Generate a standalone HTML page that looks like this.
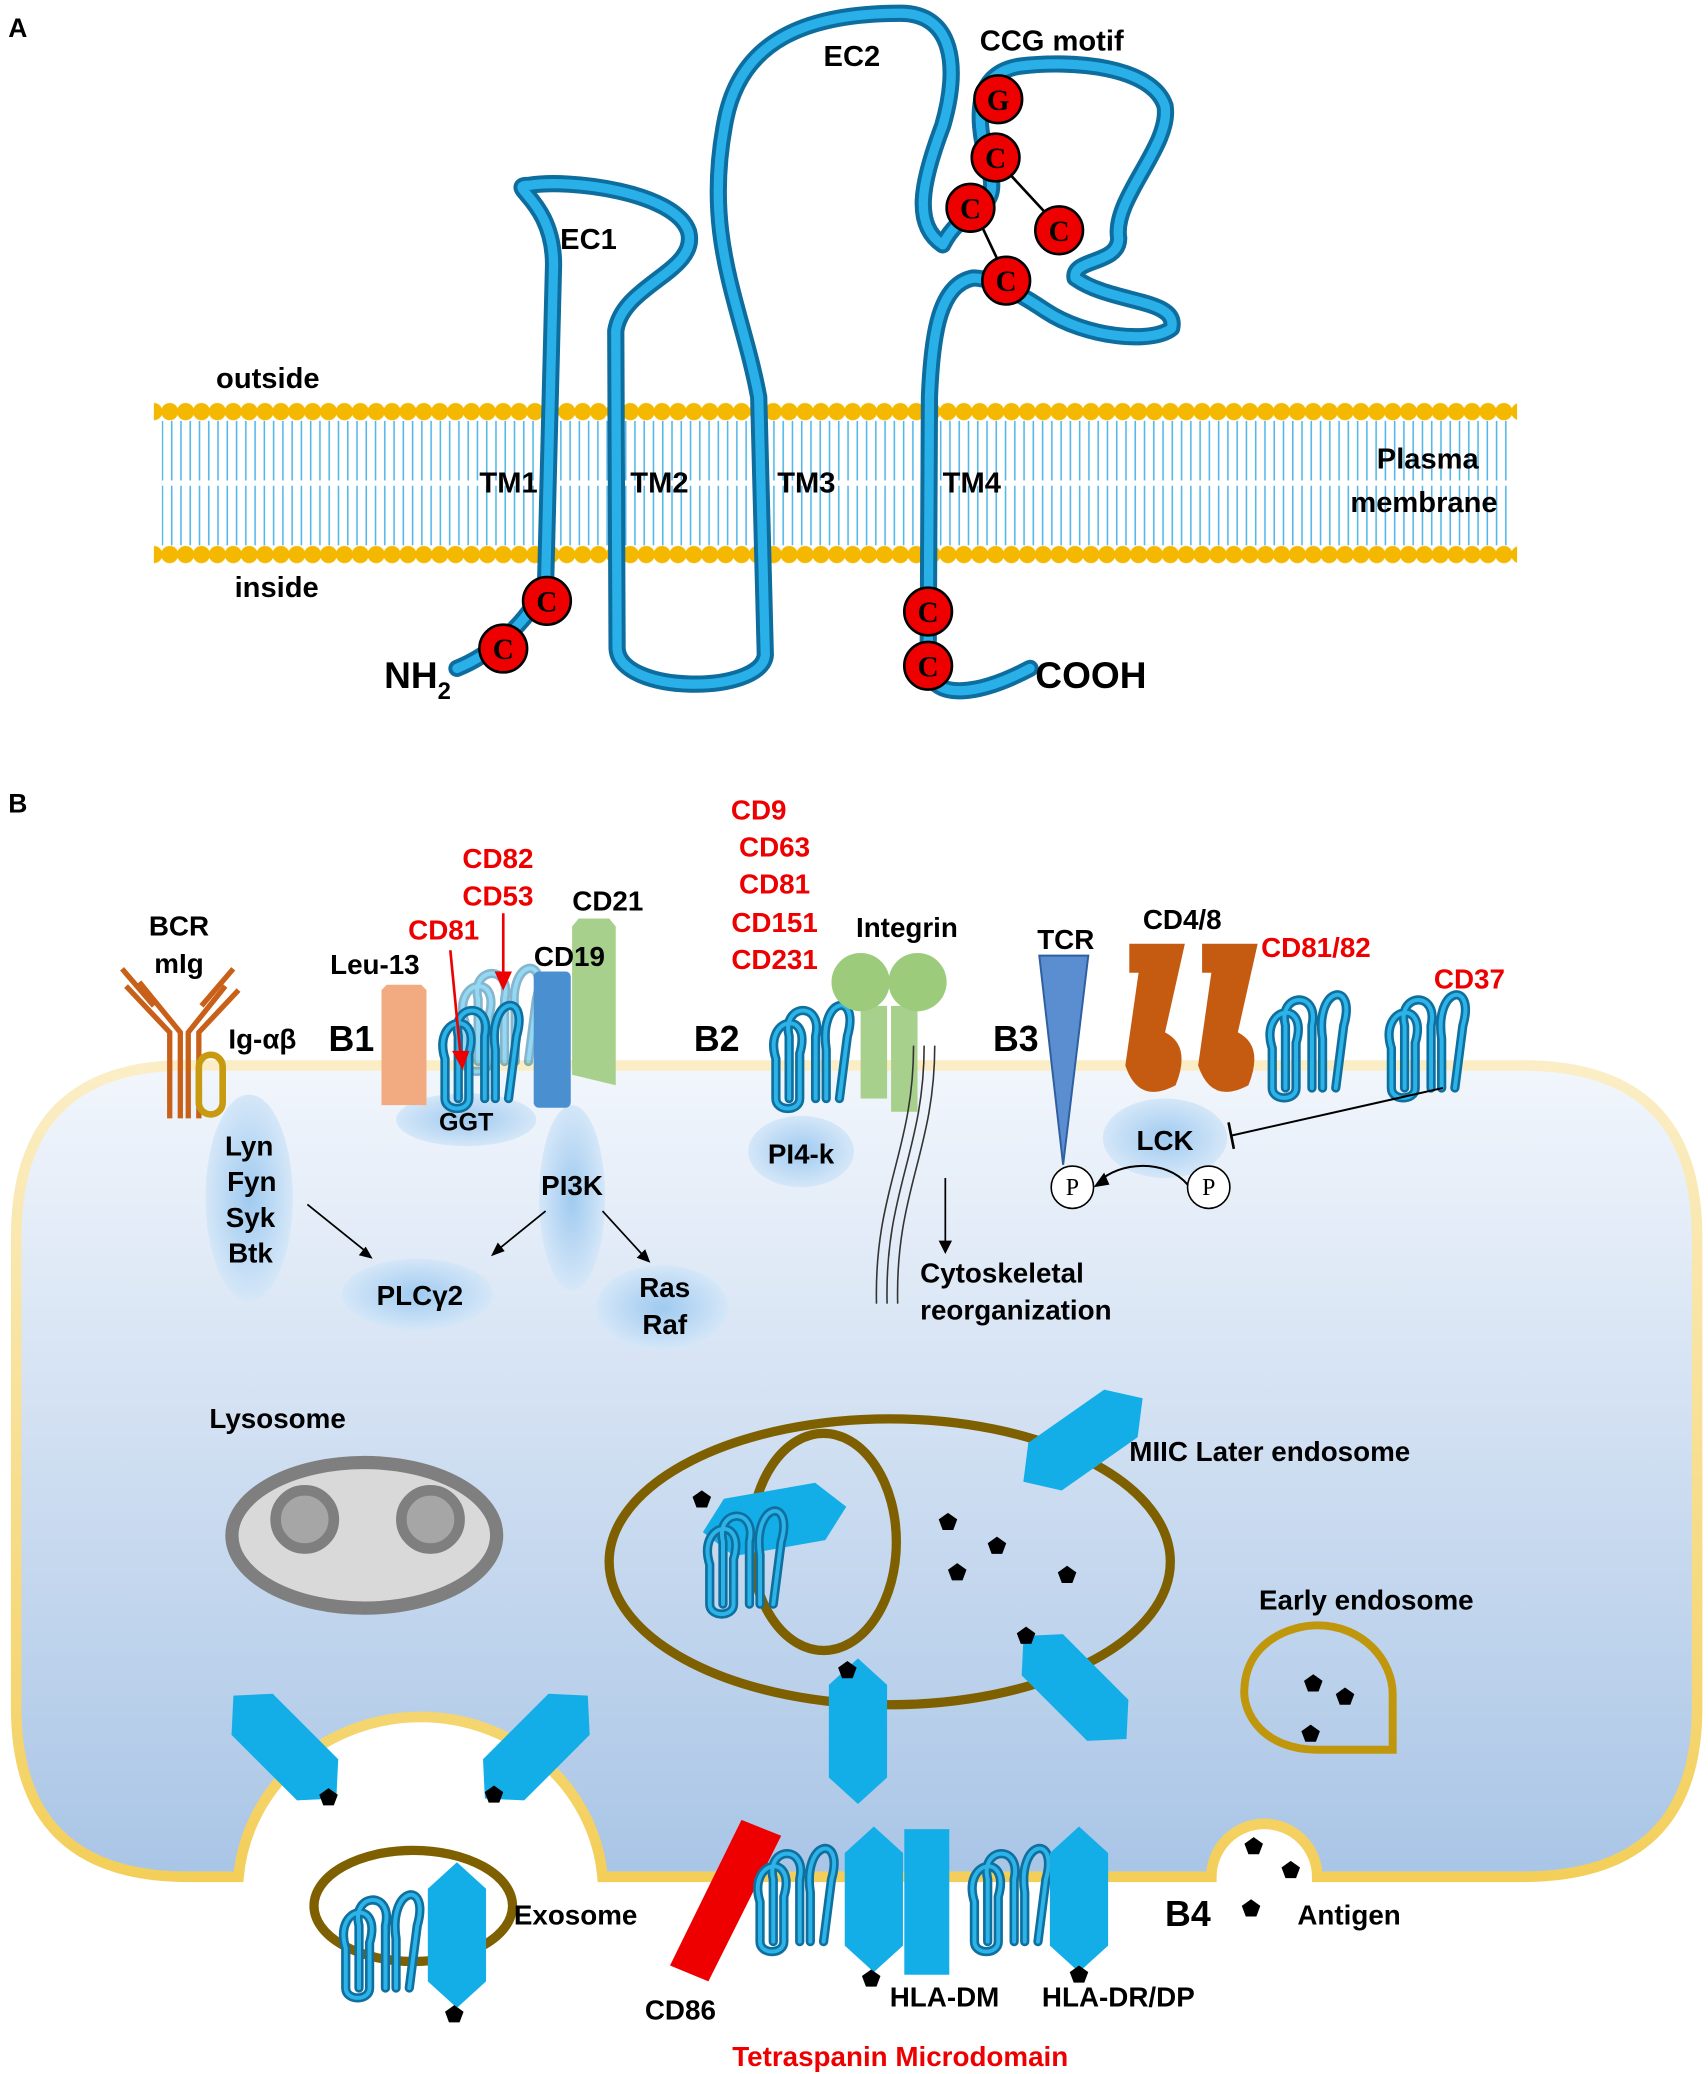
<!DOCTYPE html>
<html><head><meta charset="utf-8"><style>
html,body{margin:0;padding:0;background:#fff}
svg{display:block}
text{font-family:"Liberation Sans",sans-serif;font-weight:bold}
</style></head><body>
<svg width="1708" height="2074" viewBox="0 0 1290 1567" xmlns="http://www.w3.org/2000/svg">
<defs>
<pattern id="tails" x="0" y="0" width="7" height="10" patternUnits="userSpaceOnUse">
<line x1="3.5" y1="0" x2="3.5" y2="10" stroke="#55b8e6" stroke-width="1.2"/>
</pattern>
<pattern id="heads" x="122" y="301" width="12" height="20" patternUnits="userSpaceOnUse">
<circle cx="6" cy="10" r="6.5" fill="#f5b800"/>
</pattern>
<pattern id="heads2" x="122" y="409" width="12" height="20" patternUnits="userSpaceOnUse">
<circle cx="6" cy="10" r="6.5" fill="#f5b800"/>
</pattern>
<linearGradient id="cellg" x1="0" y1="0" x2="0" y2="1">
<stop offset="0" stop-color="#f2f6fc"/><stop offset="1" stop-color="#a9c5e6"/>
</linearGradient>
<linearGradient id="cellb" x1="0" y1="0" x2="0" y2="1">
<stop offset="0" stop-color="#fbeec6"/><stop offset="1" stop-color="#f3cf5a"/>
</linearGradient>
<radialGradient id="bub" cx="0.5" cy="0.5" r="0.5">
<stop offset="0" stop-color="#9fcaf0"/><stop offset="1" stop-color="#d5e7f8"/>
</radialGradient>
<g id="tsp">
<path d="M-24,22 L-24,-8 C-34,-40 4,-46 -6,-12 L-6,22 M-14,22 L-14,-25 C-20,-50 12,-52 6,-25 L6,22 M14,22 L14,-15 C8,-55 40,-60 30,-25 L24,22 M-24,22 C-24,32 -6,32 -6,22" fill="none" stroke="#0f6f9e" stroke-width="7" stroke-linecap="round"/>
<path d="M-24,22 L-24,-8 C-34,-40 4,-46 -6,-12 L-6,22 M-14,22 L-14,-25 C-20,-50 12,-52 6,-25 L6,22 M14,22 L14,-15 C8,-55 40,-60 30,-25 L24,22 M-24,22 C-24,32 -6,32 -6,22" fill="none" stroke="#2cb3e8" stroke-width="3" stroke-linecap="round"/>
</g>
<polygon id="hex" points="0,-55 22,-35 22,35 0,55 -22,35 -22,-35" fill="#13aee8"/>
<polygon id="pent" points="0,-7 7,-2 4,6 -4,6 -7,-2" fill="#000"/>
</defs>

<!-- PART A -->
<text x="6" y="28" font-size="20">A</text>
<rect x="122" y="318" width="1018" height="94" fill="url(#tails)"/>
<line x1="122" y1="365" x2="1140" y2="365" stroke="#fff" stroke-width="4"/>
<rect x="116" y="301" width="1030" height="20" fill="url(#heads)"/>
<rect x="116" y="409" width="1030" height="20" fill="url(#heads2)"/>
<line x1="122" y1="311" x2="1140" y2="311" stroke="#f5b800" stroke-width="3"/>
<line x1="122" y1="419" x2="1140" y2="419" stroke="#f5b800" stroke-width="3"/>

<path id="chain" d="M345,505 C370,495 400,470 412,440 L418,200 C418,150 380,140 400,140 C430,135 510,145 520,175 C528,205 470,215 465,250 L466,490 C468,525 575,525 578,495 L573,300 C560,230 530,180 548,90 C560,30 610,10 680,10 C720,10 725,50 712,95 C695,140 690,170 712,185 C730,150 760,165 745,120 C735,80 740,55 770,50 C810,45 870,50 880,80 C885,110 840,150 845,180 C845,200 810,195 812,210 C840,230 890,225 885,248 C870,260 820,255 790,235 C760,215 745,210 735,210 C710,215 704,250 702,300 L701,505 C705,530 740,525 778,505" fill="none" stroke="#0d6d9e" stroke-width="13" stroke-linecap="round" stroke-linejoin="round"/>
<path d="M345,505 C370,495 400,470 412,440 L418,200 C418,150 380,140 400,140 C430,135 510,145 520,175 C528,205 470,215 465,250 L466,490 C468,525 575,525 578,495 L573,300 C560,230 530,180 548,90 C560,30 610,10 680,10 C720,10 725,50 712,95 C695,140 690,170 712,185 C730,150 760,165 745,120 C735,80 740,55 770,50 C810,45 870,50 880,80 C885,110 840,150 845,180 C845,200 810,195 812,210 C840,230 890,225 885,248 C870,260 820,255 790,235 C760,215 745,210 735,210 C710,215 704,250 702,300 L701,505 C705,530 740,525 778,505" fill="none" stroke="#2ab0e8" stroke-width="7" stroke-linecap="round" stroke-linejoin="round"/>
<line x1="752" y1="120" x2="800" y2="172" stroke="#000" stroke-width="2"/>
<line x1="735" y1="157" x2="760" y2="210" stroke="#000" stroke-width="2"/>
<g stroke="#000" stroke-width="2" fill="#e00">
<circle cx="754" cy="75" r="18"/><circle cx="752" cy="119" r="18"/><circle cx="733" cy="157" r="18"/><circle cx="800" cy="174" r="18"/><circle cx="760" cy="212" r="18"/>
<circle cx="413" cy="454" r="18"/><circle cx="380" cy="490" r="18"/><circle cx="701" cy="462" r="18"/><circle cx="701" cy="503" r="18"/>
</g>
<g fill="#000" font-size="22" text-anchor="middle">
<text x="754" y="83" style="font-family:'Liberation Serif',serif">G</text><text x="752" y="127" style="font-family:'Liberation Serif',serif">C</text><text x="733" y="165" style="font-family:'Liberation Serif',serif">C</text><text x="800" y="182" style="font-family:'Liberation Serif',serif">C</text><text x="760" y="220" style="font-family:'Liberation Serif',serif">C</text>
<text x="413" y="462" style="font-family:'Liberation Serif',serif">C</text><text x="380" y="498" style="font-family:'Liberation Serif',serif">C</text><text x="701" y="470" style="font-family:'Liberation Serif',serif">C</text><text x="701" y="511" style="font-family:'Liberation Serif',serif">C</text>
</g>
<g font-size="22">
<text x="740" y="38">CCG motif</text>
<text x="622" y="50">EC2</text>
<text x="423" y="188">EC1</text>
<text x="163" y="293">outside</text>
<text x="177" y="451">inside</text>
<text x="362" y="372">TM1</text><text x="476" y="372">TM2</text><text x="587" y="372">TM3</text><text x="712" y="372">TM4</text>
<text x="1040" y="354">Plasma</text><text x="1020" y="387">membrane</text>
</g>
<text x="290" y="520" font-size="28">NH<tspan font-size="18" dy="8">2</tspan></text>
<text x="782" y="520" font-size="28">COOH</text>

<!-- PART B -->
<text x="6" y="614" font-size="20">B</text>
<path d="M140,805 L1150,805 Q1282,805 1282,935 L1282,1290 Q1282,1418 1150,1418 L995,1418 A40,40 0 0 0 915,1418 L455,1418 A138,132 0 0 0 180,1418 L142,1418 Q12,1418 12,1290 L12,935 Q12,805 140,805 Z" fill="url(#cellg)" stroke="url(#cellb)" stroke-width="8"/>

<!-- B1 -->
<g fill="none" stroke="#c8601a" stroke-width="4">
<path d="M128,845 L128,780 L95,745 M136,845 L136,780 L105,742 M142,845 L142,780 L170,745 M150,845 L150,780 L180,748"/>
<path d="M92,732 L116,760 M176,732 L152,760"/>
</g>
<rect x="150" y="797" width="18" height="45" rx="9" fill="none" stroke="#c89a10" stroke-width="5"/>
<ellipse cx="188" cy="905" rx="33" ry="78" fill="url(#bub)"/>
<ellipse cx="432" cy="905" rx="25" ry="70" fill="url(#bub)"/>
<ellipse cx="315" cy="978" rx="57" ry="27" fill="url(#bub)"/>
<ellipse cx="500" cy="988" rx="50" ry="32" fill="url(#bub)"/>
<ellipse cx="352" cy="846" rx="53" ry="20" fill="url(#bub)"/>
<ellipse cx="605" cy="870" rx="40" ry="27" fill="url(#bub)"/>
<ellipse cx="880" cy="860" rx="47" ry="30" fill="url(#bub)"/>
<path d="M288,748 L292,744 L318,744 L322,748 L322,835 L288,835 Z" fill="#f2ab80"/>
<g opacity="0.5"><use href="#tsp" x="375" y="780"/></g>
<use href="#tsp" x="360" y="808"/>
<rect x="403" y="734" width="28" height="103" rx="4" fill="#4a8fd0"/>
<path d="M432,700 L437,694 L460,694 L465,700 L465,820 L432,812 Z" fill="#a8d08d"/>
<g stroke="#e00" stroke-width="2" fill="#e00">
<line x1="340" y1="718" x2="348" y2="800"/><polygon points="343,795 353,795 349,806"/>
<line x1="380" y1="690" x2="380" y2="740"/><polygon points="375,735 385,735 380,746"/>
</g>
<g font-size="21" text-anchor="middle">
<text x="135" y="707">BCR</text><text x="135" y="735">mIg</text>
<text x="198" y="792">Ig-αβ</text>
<text x="188" y="873">Lyn</text><text x="190" y="900">Fyn</text><text x="189" y="927">Syk</text><text x="189" y="954">Btk</text>
<text x="352" y="854" font-size="19">GGT</text>
<text x="432" y="903">PI3K</text>
<text x="317" y="986">PLCγ2</text>
<text x="502" y="980">Ras</text><text x="502" y="1008">Raf</text>
<text x="283" y="736">Leu-13</text>
<text x="430" y="730">CD19</text>
<text x="459" y="688">CD21</text>
<text x="605" y="879">PI4-k</text>
<text x="880" y="869">LCK</text>
<text x="685" y="708">Integrin</text>
<text x="805" y="717">TCR</text>
<text x="893" y="702">CD4/8</text>
</g>
<g font-size="21" text-anchor="middle" fill="#e00">
<text x="335" y="710">CD81</text><text x="376" y="656">CD82</text><text x="376" y="684">CD53</text>
<text x="573" y="619">CD9</text><text x="585" y="647">CD63</text><text x="585" y="675">CD81</text><text x="585" y="704">CD151</text><text x="585" y="732">CD231</text>
<text x="994" y="723">CD81/82</text><text x="1110" y="747">CD37</text>
</g>
<g font-size="27"><text x="248" y="794">B1</text><text x="524" y="794">B2</text><text x="750" y="794">B3</text><text x="880" y="1455">B4</text></g>
<g stroke="#000" stroke-width="1.3" fill="#000">
<line x1="232" y1="910" x2="278" y2="947"/><polygon points="280,950 272,948 276,943"/>
<line x1="412" y1="915" x2="375" y2="945"/><polygon points="372,948 376,940 380,945"/>
<line x1="455" y1="915" x2="487" y2="950"/><polygon points="490,953 482,950 487,945"/>
<line x1="714" y1="890" x2="714" y2="940"/><polygon points="710,938 718,938 714,946"/>
</g>

<!-- B2 -->
<use href="#tsp" x="610" y="808"/>
<rect x="650" y="760" width="20" height="70" fill="#a8d08d"/>
<rect x="673" y="760" width="20" height="80" fill="#a8d08d"/>
<circle cx="650" cy="742" r="22" fill="#9ccb7c"/><circle cx="693" cy="742" r="22" fill="#9ccb7c"/>
<g fill="none" stroke="#333" stroke-width="1.2">
<path d="M690,790 C690,870 660,900 662,985"/><path d="M698,790 C698,870 668,900 670,985"/><path d="M706,790 C706,870 676,900 678,985"/>
</g>
<g font-size="21"><text x="695" y="969">Cytoskeletal</text><text x="695" y="997">reorganization</text></g>

<!-- B3 -->
<path d="M785,722 L822,722 L803,880 Z" fill="#5b8ed0" stroke="#2f5fa0" stroke-width="1.5"/>
<path d="M853,713 L895,713 L880,780 Q900,790 888,820 Q860,835 850,805 L860,735 L853,735 Z" fill="#c55a11"/>
<path d="M908,713 L950,713 L935,780 Q955,790 943,820 Q915,835 905,805 L915,735 L908,735 Z" fill="#c55a11"/>
<use href="#tsp" x="985" y="800"/>
<use href="#tsp" x="1075" y="800"/>
<g fill="#fff" stroke="#000" stroke-width="1.2"><circle cx="810" cy="897" r="16"/><circle cx="913" cy="897" r="16"/></g>
<g font-size="18" text-anchor="middle"><text x="810" y="903" style="font-family:'Liberation Serif',serif;font-weight:normal">P</text><text x="913" y="903" style="font-family:'Liberation Serif',serif;font-weight:normal">P</text></g>
<path d="M897,895 C880,875 845,878 830,893" fill="none" stroke="#000" stroke-width="1.5"/>
<polygon points="826,897 834,886 838,895" fill="#000"/>
<line x1="1090" y1="822" x2="930" y2="858" stroke="#000" stroke-width="1.5"/>
<line x1="928" y1="848" x2="932" y2="868" stroke="#000" stroke-width="2"/>

<!-- lower -->
<ellipse cx="275" cy="1160" rx="100" ry="55" fill="#d9d9d9" stroke="#7f7f7f" stroke-width="10"/>
<circle cx="230" cy="1148" r="22" fill="#a6a6a6" stroke="#7f7f7f" stroke-width="8"/>
<circle cx="325" cy="1148" r="22" fill="#a6a6a6" stroke="#7f7f7f" stroke-width="8"/>
<ellipse cx="672" cy="1180" rx="212" ry="108" fill="none" stroke="#7f6000" stroke-width="7"/>
<ellipse cx="622" cy="1165" rx="55" ry="82" fill="none" stroke="#7f6000" stroke-width="7"/>
<path d="M995,1322 C955,1322 938,1295 940,1275 C942,1240 975,1228 995,1228 C1030,1228 1052,1255 1052,1280 L1052,1322 Z" fill="none" stroke="#c0960c" stroke-width="6"/>
<g transform="translate(818,1088) rotate(55)"><use href="#hex"/></g>
<g transform="translate(585,1148) rotate(80)"><use href="#hex"/></g>
<use href="#tsp" x="560" y="1190"/>
<g transform="translate(812,1275) rotate(-45)"><use href="#hex"/></g>
<g transform="translate(648,1308)"><use href="#hex"/></g>
<g transform="translate(215,1320) rotate(-45)"><use href="#hex"/></g>
<g transform="translate(405,1320) rotate(45)"><use href="#hex"/></g>
<use href="#pent" x="530" y="1133"/><use href="#pent" x="716" y="1150"/><use href="#pent" x="753" y="1168"/><use href="#pent" x="723" y="1188"/><use href="#pent" x="806" y="1190"/><use href="#pent" x="775" y="1236"/><use href="#pent" x="640" y="1262"/>
<use href="#pent" x="992" y="1272"/><use href="#pent" x="1016" y="1282"/><use href="#pent" x="990" y="1310"/>
<use href="#pent" x="248" y="1358"/><use href="#pent" x="373" y="1356"/>
<use href="#pent" x="947" y="1395"/><use href="#pent" x="975" y="1413"/><use href="#pent" x="945" y="1442"/>
<ellipse cx="312" cy="1440" rx="75" ry="42" fill="none" stroke="#7f6000" stroke-width="7"/>
<use href="#tsp" x="285" y="1480"/>
<g transform="translate(345,1462)"><use href="#hex"/></g>
<use href="#pent" x="343" y="1522"/>
<polygon points="560,1375 590,1387 535,1497 506,1485" fill="#e00"/>
<use href="#tsp" x="598" y="1445"/>
<g transform="translate(660,1435)"><use href="#hex"/></g>
<rect x="683" y="1382" width="34" height="110" fill="#13aee8"/>
<use href="#tsp" x="760" y="1445"/>
<g transform="translate(815,1435)"><use href="#hex"/></g>
<use href="#pent" x="658" y="1495"/><use href="#pent" x="815" y="1492"/>
<g font-size="21">
<text x="158" y="1079">Lysosome</text>
<text x="853" y="1104">MIIC Later endosome</text>
<text x="951" y="1216">Early endosome</text>
<text x="388" y="1454">Exosome</text>
<text x="980" y="1454">Antigen</text>
<text x="487" y="1526">CD86</text>
<text x="672" y="1516">HLA-DM</text>
<text x="787" y="1516">HLA-DR/DP</text>
<text x="553" y="1561" fill="#e00">Tetraspanin Microdomain</text>
</g>
</svg>
</body></html>
